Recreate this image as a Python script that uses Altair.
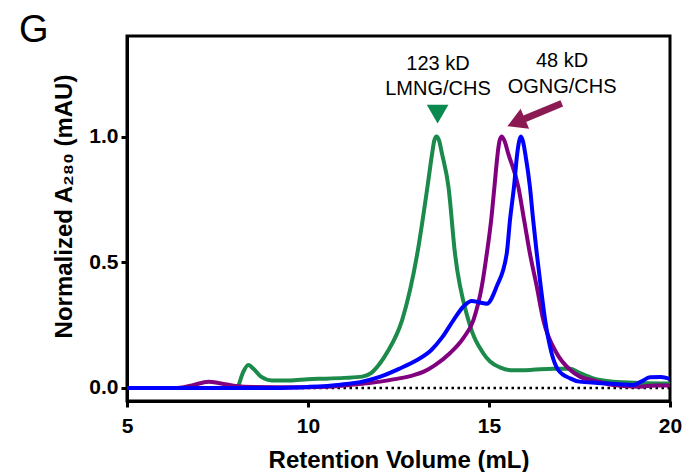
import altair as alt
import pandas as pd

# ---- data ----
lmng_x = [5.0, 7.9, 8.05, 8.2, 8.35, 8.5, 8.7, 9.0, 9.5, 10.0, 10.5, 11.0, 11.5, 11.75, 12.0, 12.2,
          12.6, 13.02, 13.3, 13.43, 13.49, 13.55, 13.62, 13.7, 13.88, 14.06, 14.43, 14.84, 15.03, 15.3, 15.67,
          16.2, 16.77, 17.25, 17.5, 17.88, 18.43, 19.16, 20.0]
lmng_y = [0.0, 0.0, 0.005, 0.06, 0.091, 0.075, 0.045, 0.03, 0.03, 0.035, 0.037, 0.04, 0.045, 0.06, 0.1, 0.145,
          0.27, 0.535, 0.8, 0.933, 0.985, 1.0, 0.985, 0.933, 0.8, 0.535, 0.27, 0.138, 0.105, 0.082, 0.07,
          0.072, 0.076, 0.076, 0.06, 0.038, 0.025, 0.02, 0.018]

ogng_x = [5.0, 6.4, 6.8, 7.25, 7.6, 8.0, 8.5, 9.5, 10.5, 11.0, 11.5, 12.0, 12.4, 12.9, 13.2, 13.5,
          13.92, 14.3, 14.57, 14.8, 14.94, 15.06, 15.15, 15.24, 15.29, 15.35, 15.43, 15.53, 15.81, 15.97, 16.13,
          16.32, 16.5, 16.87, 17.24, 17.51, 17.88, 18.43, 19.16, 19.6, 20.0]
ogng_y = [0.0, 0.0, 0.01, 0.025, 0.018, 0.008, 0.004, 0.003, 0.005, 0.01, 0.017, 0.025, 0.035, 0.05, 0.065, 0.09,
          0.138, 0.2, 0.27, 0.403, 0.535, 0.668, 0.8, 0.933, 0.982, 1.0, 0.982, 0.933, 0.8, 0.668, 0.535,
          0.403, 0.27, 0.138, 0.072, 0.045, 0.03, 0.012, 0.005, 0.01, 0.01]

blue_x = [5.0, 9.0, 10.0, 10.9, 11.5, 12.0, 12.5, 13.0, 13.4, 13.7, 14.02, 14.3, 14.52, 14.75, 14.94,
          15.21, 15.49, 15.58, 15.69, 15.78, 15.83, 15.88, 15.94, 16.0, 16.13, 16.22, 16.32, 16.43, 16.55, 16.73,
          16.91, 17.24, 17.5, 18.0, 18.98, 19.2, 19.45, 19.75, 20.0]
blue_y = [0.0, 0.0, 0.004, 0.013, 0.025, 0.045, 0.075, 0.11, 0.15, 0.2, 0.27, 0.325, 0.346, 0.34, 0.335,
          0.403, 0.535, 0.668, 0.8, 0.933, 0.98, 1.0, 0.98, 0.933, 0.8, 0.668, 0.535, 0.403, 0.27, 0.138,
          0.072, 0.038, 0.025, 0.02, 0.012, 0.025, 0.042, 0.043, 0.035]

label_text = ["123 kD", "LMNG/CHS", "48 kD", "OGNG/CHS"]
label_x = [13.59, 13.59, 17.02, 17.02]
label_y = [1.288, 1.189, 1.300, 1.197]

marker_x = [13.58]
marker_y = [1.089]

arrow_tail = [17.01, 1.132]
arrow_base = [15.92, 1.067]
arrow_head = [15.75, 1.056]

GREEN = "#1b8a4a"
PURPLE = "#800080"
BLUE = "#0000ff"
MAROON = "#8c1a52"
FONT = "Liberation Sans"

xscale = alt.Scale(domain=[5, 20], nice=False, zero=False)
yscale = alt.Scale(domain=[-0.052, 1.4], nice=False, zero=False)


def series(xs, ys):
    return pd.DataFrame({"v": xs, "a": ys})


xaxis = alt.Axis(values=[5, 10, 15, 20], title="Retention Volume (mL)", labelFlush=False,
                 labelFontSize=21, labelFontWeight="bold", labelPadding=8, labelColor="black",
                 titleFontSize=24, titleFontWeight="bold", titlePadding=12, titleColor="black",
                 tickSize=6, tickWidth=3, tickColor="black", domainWidth=3, domainColor="black",
                 grid=False, labelFont=FONT, titleFont=FONT)
yaxis = alt.Axis(values=[0, 0.5, 1.0], format=".1f", title="Normalized A₂₈₀ (mAU)",
                 labelFontSize=21, labelFontWeight="bold", labelPadding=3, labelColor="black",
                 titleFontSize=24, titleFontWeight="bold", titlePadding=12, titleColor="black",
                 titleY=170,
                 tickSize=6, tickWidth=3, tickColor="black", domainWidth=3, domainColor="black",
                 grid=False, labelFont=FONT, titleFont=FONT)


def X(field="v:Q"):
    return alt.X(field, scale=xscale, axis=xaxis)


def Y(field="a:Q"):
    return alt.Y(field, scale=yscale, axis=yaxis)


zero_line = alt.Chart(pd.DataFrame({"a": [0.0]})).mark_rule(
    color="black", strokeWidth=2.5, strokeDash=[2.5, 3.5]
).encode(y=Y())


def line(xs, ys, color):
    return alt.Chart(series(xs, ys)).mark_line(
        color=color, strokeWidth=4, interpolate="monotone", clip=True
    ).encode(x=X(), y=Y())


green = line(lmng_x, lmng_y, GREEN)
purple = line(ogng_x, ogng_y, PURPLE)
blue = line(blue_x, blue_y, BLUE)

labels = alt.Chart(pd.DataFrame({"t": label_text, "v": label_x, "a": label_y})).mark_text(
    font=FONT, fontSize=20, color="black", baseline="middle", align="center"
).encode(x=X(), y=Y(), text="t:N")

marker = alt.Chart(pd.DataFrame({"v": marker_x, "a": marker_y})).mark_point(
    shape="triangle-down", filled=True, size=470, color="#0a8a4e", opacity=1
).encode(x=X(), y=Y())

shaft = alt.Chart(pd.DataFrame({"v": [arrow_tail[0]], "a": [arrow_tail[1]],
                                "v2": [arrow_base[0]], "a2": [arrow_base[1]]})).mark_rule(
    color=MAROON, strokeWidth=7, strokeCap="butt"
).encode(x=X(), y=Y(), x2="v2:Q", y2="a2:Q")

head = alt.Chart(pd.DataFrame({"v": [arrow_head[0]], "a": [arrow_head[1]]})).mark_point(
    shape="triangle-up", filled=True, size=480, color=MAROON, opacity=1, angle=247
).encode(x=X(), y=Y())

panel_letter = alt.Chart(pd.DataFrame({"t": ["G"]})).mark_text(
    font=FONT, fontSize=38, color="black", align="left", baseline="alphabetic"
).encode(x=alt.value(-108), y=alt.value(6), text="t:N")

chart = alt.layer(
    zero_line, green, purple, blue, labels, marker, shaft, head, panel_letter
).properties(
    width=543, height=365,
    autosize=alt.AutoSizeParams(type="none"),
    padding={"left": 127, "top": 36, "right": 12, "bottom": 71},
    background="white",
).configure_view(
    stroke="black", strokeWidth=3
)

chart.save("out.html", embed_options={"renderer": "svg", "actions": False})
